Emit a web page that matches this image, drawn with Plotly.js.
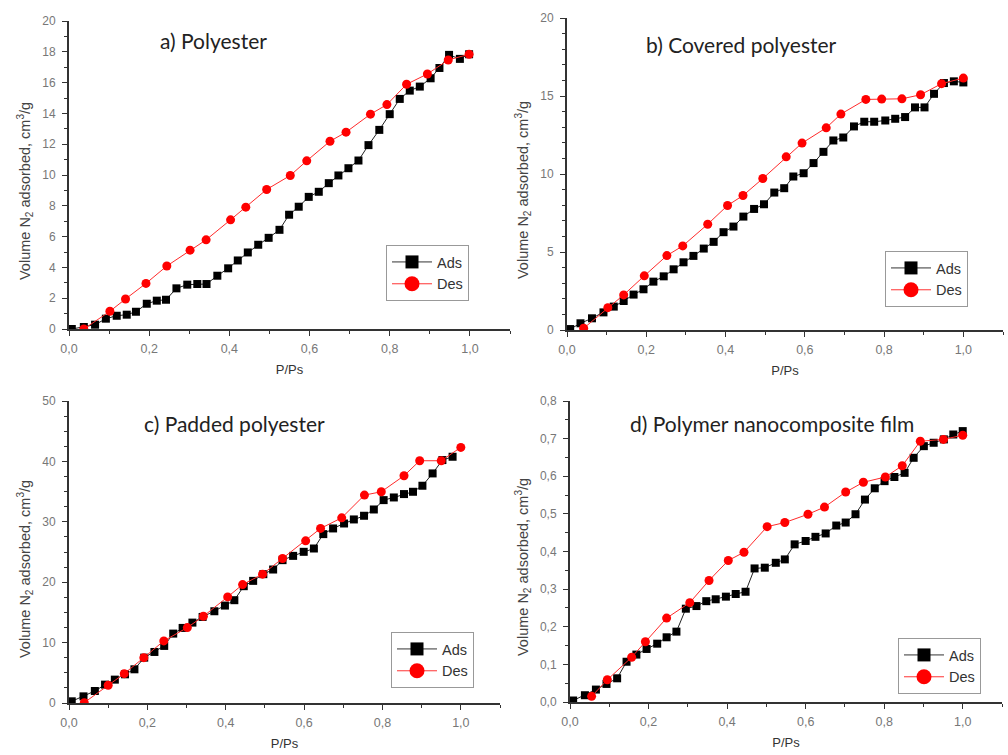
<!DOCTYPE html>
<html>
<head>
<meta charset="utf-8">
<script src="https://cdn.plot.ly/plotly-3.0.1.min.js"></script>
<style>html,body{margin:0;padding:0;background:#fff;}#chart{width:1008px;height:755px;}</style>
</head>
<body>
<div id="chart"></div>
<script>
// ---------- data ----------
const panelTitles = ["a) Polyester", "b) Covered polyester", "c) Padded polyester", "d) Polymer nanocomposite film"];
const seriesNames = ["Ads", "Des"];
const xTitle = "P/Ps";
const yTitle = "Volume N<sub>2</sub> adsorbed, cm<sup>3</sup>/g";

// a) Polyester
const aAdsX = [0.007,0.037,0.065,0.092,0.119,0.144,0.167,0.194,0.219,0.242,0.268,0.295,0.320,0.343,0.370,0.397,0.421,0.446,0.472,0.498,0.525,0.549,0.573,0.598,0.623,0.648,0.672,0.697,0.722,0.747,0.774,0.800,0.825,0.850,0.875,0.902,0.924,0.948,0.975,0.998];
const aAdsY = [0.00,0.13,0.28,0.67,0.86,0.93,1.12,1.64,1.84,1.90,2.64,2.88,2.92,2.92,3.46,3.94,4.45,4.97,5.47,5.92,6.44,7.42,7.94,8.58,8.91,9.47,9.97,10.44,10.94,11.94,12.93,13.95,14.94,15.48,15.74,16.28,16.95,17.80,17.54,17.84];
const aDesX = [0.037,0.102,0.141,0.192,0.244,0.302,0.342,0.403,0.441,0.493,0.552,0.593,0.651,0.691,0.752,0.793,0.842,0.894,0.946,0.998];
const aDesY = [0.00,1.15,1.95,2.96,4.09,5.12,5.79,7.09,7.91,9.06,9.97,10.92,12.19,12.78,13.95,14.57,15.89,16.56,17.47,17.84];

// b) Covered polyester
const bAdsX = [0.008,0.034,0.063,0.092,0.118,0.143,0.168,0.193,0.218,0.244,0.269,0.294,0.319,0.345,0.370,0.395,0.420,0.445,0.472,0.497,0.523,0.548,0.571,0.597,0.622,0.647,0.672,0.697,0.724,0.750,0.775,0.803,0.828,0.853,0.878,0.902,0.926,0.951,0.976,1.000];
const bAdsY = [0.06,0.43,0.75,1.13,1.50,1.86,2.27,2.61,3.10,3.44,3.89,4.34,4.75,5.22,5.65,6.27,6.63,7.27,7.76,8.06,8.81,9.09,9.84,10.05,10.70,11.42,12.15,12.34,13.05,13.35,13.35,13.43,13.54,13.65,14.27,14.27,15.14,15.83,15.94,15.87];
const bDesX = [0.042,0.103,0.143,0.195,0.252,0.292,0.355,0.405,0.444,0.494,0.553,0.593,0.654,0.691,0.754,0.794,0.845,0.892,0.945,1.000];
const bDesY = [0.11,1.43,2.25,3.47,4.77,5.39,6.78,7.98,8.62,9.71,11.10,11.98,12.96,13.84,14.78,14.80,14.82,15.08,15.79,16.15];

// c) Padded polyester
const cAdsX = [0.007,0.037,0.066,0.092,0.117,0.143,0.167,0.192,0.218,0.243,0.266,0.290,0.315,0.341,0.371,0.398,0.422,0.446,0.470,0.496,0.521,0.545,0.572,0.599,0.625,0.649,0.674,0.702,0.727,0.753,0.778,0.803,0.829,0.855,0.878,0.902,0.928,0.953,0.979];
const cAdsY = [0.28,1.10,1.99,3.04,3.87,4.75,5.58,7.51,8.45,9.45,11.49,12.43,13.31,14.25,15.19,16.13,17.02,19.34,20.22,21.33,22.10,23.65,24.36,25.03,25.58,27.96,28.90,29.72,30.39,31.00,32.04,33.59,34.03,34.59,34.97,35.97,38.01,40.22,40.77];
const cDesX = [0.039,0.100,0.141,0.191,0.242,0.302,0.343,0.405,0.443,0.494,0.545,0.604,0.642,0.696,0.754,0.797,0.855,0.895,0.950,1.000];
const cDesY = [0.06,2.93,4.86,7.51,10.28,12.49,14.36,17.57,19.61,21.33,23.92,26.85,28.90,30.66,34.42,34.97,37.62,40.11,40.11,42.32];

// d) Polymer nanocomposite film
const dAdsX = [0.008,0.038,0.066,0.093,0.120,0.144,0.169,0.195,0.222,0.246,0.271,0.295,0.322,0.347,0.371,0.397,0.422,0.447,0.470,0.496,0.524,0.547,0.572,0.600,0.625,0.651,0.678,0.702,0.727,0.751,0.776,0.801,0.826,0.852,0.875,0.901,0.926,0.952,0.976,1.000];
const dAdsY = [0.004,0.018,0.033,0.048,0.063,0.107,0.126,0.141,0.155,0.172,0.187,0.248,0.255,0.268,0.273,0.280,0.287,0.293,0.355,0.357,0.370,0.379,0.419,0.428,0.439,0.448,0.469,0.477,0.499,0.538,0.568,0.587,0.598,0.609,0.649,0.680,0.689,0.698,0.711,0.720];
const dDesX = [0.055,0.095,0.157,0.192,0.246,0.305,0.354,0.403,0.443,0.502,0.547,0.606,0.648,0.702,0.747,0.803,0.846,0.892,0.951,1.000];
const dDesY = [0.015,0.059,0.119,0.160,0.223,0.264,0.323,0.376,0.398,0.466,0.477,0.499,0.518,0.558,0.584,0.598,0.628,0.693,0.698,0.709];

const yRanges = [[0,20],[0,20],[0,50],[0,0.8]];
const yDticks = [2,5,10,0.1];
const yMinor = [1,1,2.5,0.05];
const yFormats = ["d","d","d",".1f"];

// ---------- layout geometry ----------
const W = 1008, H = 755;
const px = (a,b) => [a/W, b/W];
const py = (top,bottom) => [1-bottom/H, 1-top/H];
const xDomains = [px(69,510), px(567,1003), px(69,500), px(570,1002)];
const yDomains = [py(21,329), py(18,330), py(401,703), py(401,702)];
const titlePos = [[213,41],[741,44],[234,423],[772,423]];
const yTitlePos = [[25,191],[523,190],[25,569],[523,567]];
const legendPos = [[386,245],[885,251],[391,632],[898,638]];

const panels = [
  [aAdsX,aAdsY,aDesX,aDesY],
  [bAdsX,bAdsY,bDesX,bDesY],
  [cAdsX,cAdsY,cDesX,cDesY],
  [dAdsX,dAdsY,dDesX,dDesY]
];

const traces = [];
const layout = {
  width: W, height: H,
  margin: {l:0, r:0, t:0, b:0},
  paper_bgcolor: "#fff", plot_bgcolor: "#fff",
  separators: ",.",
  font: {family: "Liberation Sans, Arial, sans-serif", color: "#555"},
  annotations: []
};

panels.forEach((p, i) => {
  const n = i === 0 ? "" : String(i+1);
  const xa = "x"+n, ya = "y"+n;
  const lg = "legend"+n;
  traces.push({x:p[0], y:p[1], xaxis:xa, yaxis:ya, type:"scatter", mode:"lines+markers",
    name:seriesNames[0], showlegend:false,
    line:{color:"#222", width:1}, marker:{symbol:"square", size:8, color:"#000"}});
  traces.push({x:p[2], y:p[3], xaxis:xa, yaxis:ya, type:"scatter", mode:"lines+markers",
    name:seriesNames[1], showlegend:false,
    line:{color:"#ff2a2a", width:1}, marker:{symbol:"circle", size:9, color:"#ff0000"}});
  // legend entries (larger symbols, as in the reference)
  traces.push({x:[null], y:[null], xaxis:xa, yaxis:ya, type:"scatter", mode:"lines+markers",
    name:seriesNames[0], legend:lg, hoverinfo:"skip",
    line:{color:"#333", width:1}, marker:{symbol:"square", size:13, color:"#000"}});
  traces.push({x:[null], y:[null], xaxis:xa, yaxis:ya, type:"scatter", mode:"lines+markers",
    name:seriesNames[1], legend:lg, hoverinfo:"skip",
    line:{color:"#ff3333", width:1}, marker:{symbol:"circle", size:15, color:"#ff0000"}});

  layout["xaxis"+n] = {
    domain: xDomains[i], anchor: ya, range: [0,1.1],
    showgrid:false, zeroline:false, showline:true, linecolor:"#333", linewidth:2,
    ticks:"outside", ticklen:5, tickwidth:1, tickcolor:"#333",
    tick0:0, dtick:0.2, tickformat:".1f", ticklabelstandoff:2,
    minor:{ticks:"outside", ticklen:3, dtick:0.1, tickcolor:"#333", showgrid:false},
    tickfont:{size:12.5, color:"#777"},
    title:{text:xTitle, font:{size:13, color:"#333"}, standoff:10}
  };
  layout["yaxis"+n] = {
    domain: yDomains[i], anchor: xa, range: yRanges[i],
    showgrid:false, zeroline:false, showline:true, linecolor:"#333", linewidth:2,
    ticks:"outside", ticklen:5, tickwidth:1, tickcolor:"#333",
    tick0:0, dtick:yDticks[i], tickformat:yFormats[i], ticklabelstandoff:4,
    minor:{ticks:"outside", ticklen:3, dtick:yMinor[i], tickcolor:"#333", showgrid:false},
    tickfont:{size:12, color:"#777"}
  };
  layout[lg] = {
    x: legendPos[i][0]/W, y: 1-legendPos[i][1]/H, xanchor:"left", yanchor:"top",
    bgcolor:"#fff", bordercolor:"#999", borderwidth:1, itemwidth:40,
    font:{size:14.5, color:"#333"}, tracegroupgap:0
  };
  layout.annotations.push({
    text: panelTitles[i], xref:"paper", yref:"paper",
    x: titlePos[i][0]/W, y: 1-titlePos[i][1]/H, xanchor:"center", yanchor:"middle",
    showarrow:false, font:{family:"Lato, Open Sans, sans-serif", size:21, color:"#222"}
  });
  // y-axis title (placed as in the reference, slightly below the domain centre)
  layout.annotations.push({
    text: yTitle, xref:"paper", yref:"paper", textangle:-90,
    x: yTitlePos[i][0]/W, y: 1-yTitlePos[i][1]/H, xanchor:"center", yanchor:"middle",
    showarrow:false, font:{size:14.5, color:"#444"}
  });
});

Plotly.newPlot("chart", traces, layout, {displayModeBar:false, staticPlot:true});
</script>
</body>
</html>
